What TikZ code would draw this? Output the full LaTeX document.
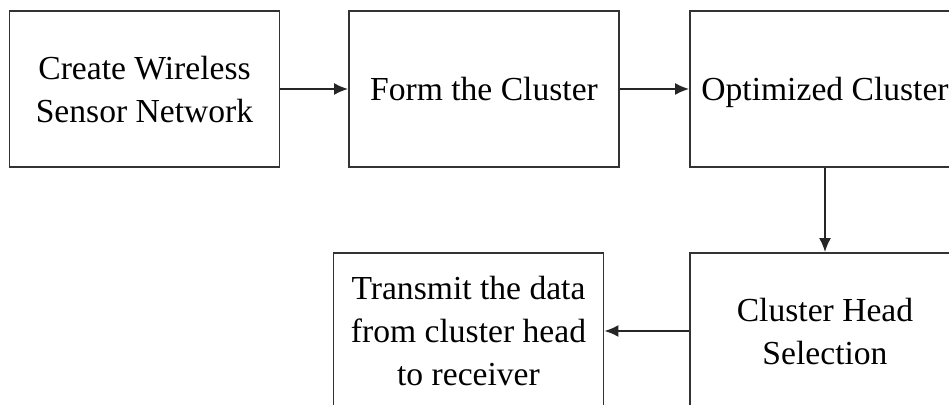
\documentclass[tikz,border=0pt]{standalone}
\usepackage{fontspec}
\setmainfont{Liberation Serif}
\usetikzlibrary{arrows.meta}

\begin{document}
\begin{tikzpicture}[x=0.5pt, y=0.5pt,
		stepbox/.style={draw=black!80, line width=0.9pt, minimum width=135pt, minimum height=78pt, align=center, text depth=0pt, font=\fontsize{16.8}{21.5}\selectfont, inner sep=0pt},
		flow/.style={draw=black!85, line width=0.9pt, -{Latex[length=7pt, width=6pt]}}]
			%%%%% START %%%%%
			
			\useasboundingbox (0, 0) rectangle (949, 405);
			
			\node[stepbox] (wsn) at (144.5, 316) {Create Wireless\\Sensor Network};
			\node[stepbox] (form) at (484, 316) {Form the Cluster};
			\node[stepbox] (optim) at (825, 316) {Optimized Cluster};
			
			\node[stepbox] (chsel) at (825, 74) {Cluster Head\\Selection};
			\node[stepbox] (trans) at (468.5, 74) {Transmit the data\\from cluster head\\to receiver};
			
			\draw[flow] (wsn) -- (form);
			\draw[flow] (form) -- (optim);
			\draw[flow] (optim) -- (chsel);
			\draw[flow] (chsel) -- (trans);
			
			%%%%% END %%%%%
		\end{tikzpicture}
\end{document}
